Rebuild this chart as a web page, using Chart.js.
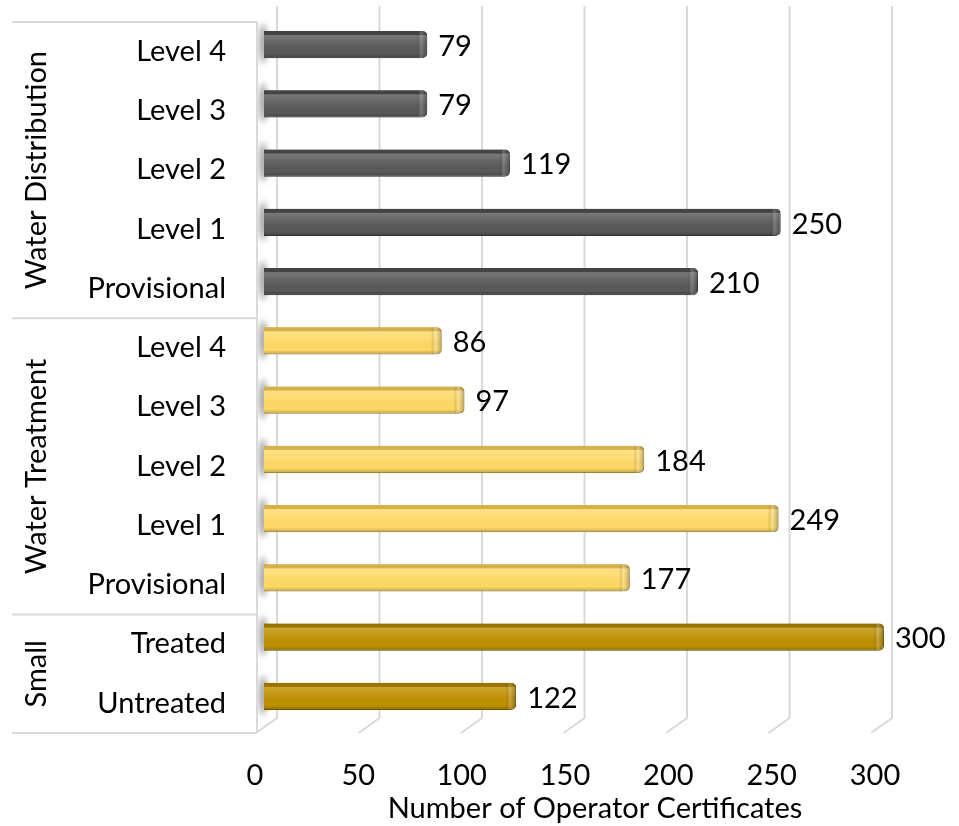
<!DOCTYPE html>
<html>
<head>
<meta charset="utf-8">
<script src="https://cdn.jsdelivr.net/npm/chart.js@4/dist/chart.umd.min.js"></script>
<style>
  html, body { margin: 0; padding: 0; background: #fff; }
  #wrap { width: 959px; height: 826px; }
</style>
</head>
<body>
<div id="wrap"><canvas id="c" width="959" height="826"></canvas></div>
<script>
// Certificate levels, top to bottom
const levels = ['Level 4', 'Level 3', 'Level 2', 'Level 1', 'Provisional',
                'Level 4', 'Level 3', 'Level 2', 'Level 1', 'Provisional',
                'Treated', 'Untreated'];
// Program groups and how many levels each one spans
const groupNames = ['Water Distribution', 'Water Treatment', 'Small'];
const groupSizes = [5, 5, 2];
// Number of operator certificates per level
const certificates = [79, 79, 119, 250, 210, 86, 97, 184, 249, 177, 300, 122];
// Value axis ticks
const xTicks = [0, 50, 100, 150, 200, 250, 300];
const axisTitle = 'Number of Operator Certificates';

// Group styling: front colour, top face, outline
const groupFront = ['#595959', '#FFD966', '#BF9000'];
const groupTop   = ['#444444', '#D6B04A', '#977200'];
const groupEdge  = ['#3f3f3f', '#C9A43C', '#8A6A00'];

const FONT = 'Lato, "Open Sans", sans-serif';
const FONT_SIZE = 29;
const GRID = '#d9d9d9';
const DEPTH_X = 21;   // floor depth, horizontal
const DEPTH_Y = 15;   // floor depth, vertical
const LABEL_SHIFT = 7; // category labels sit below the bars (3D offset)

function groupOf(i) {
  let acc = 0;
  for (let g = 0; g < groupSizes.length; g++) {
    acc += groupSizes[g];
    if (i < acc) return g;
  }
  return groupSizes.length - 1;
}

// x position of a value on the back wall
function backX(scale, v) {
  const x0 = scale.left;
  return x0 + (scale.getPixelForValue(v) - x0) * 0.992 + 13;
}

const wallPlugin = {
  id: 'wall',
  beforeDatasetsDraw(chart) {
    const { ctx, scales: { x, y } } = chart;
    const floorBack = y.bottom - 8;
    const floorFront = floorBack + DEPTH_Y;
    ctx.save();
    ctx.strokeStyle = GRID;
    ctx.lineWidth = 2;
    xTicks.forEach(v => {
      const bx = backX(x, v);
      ctx.beginPath();
      ctx.moveTo(bx, 6);
      ctx.lineTo(bx, floorBack);
      ctx.lineTo(bx - DEPTH_X, floorFront);
      ctx.stroke();
    });
    // bar shadows on the side wall
    const meta = chart.getDatasetMeta(0);
    const wallL = backX(x, 0) - DEPTH_X + 1, wallR = backX(x, 0) - 1;
    ctx.beginPath();
    ctx.rect(wallL, 0, wallR - wallL, floorFront);
    ctx.clip();
    ctx.filter = 'blur(3px)';
    ctx.fillStyle = 'rgba(0,0,0,0.42)';
    meta.data.forEach(el => {
      const p = el.getProps(['y', 'height'], true);
      ctx.beginPath();
      ctx.ellipse(wallL + 6, p.y - 1, 3.5, p.height / 2 + 6, 0, 0, Math.PI * 2);
      ctx.fill();
    });
    ctx.restore();
  }
};

const barLookPlugin = {
  id: 'barLook',
  afterDatasetsDraw(chart) {
    const { ctx } = chart;
    const meta = chart.getDatasetMeta(0);
    const values = chart.data.datasets[0].data;
    meta.data.forEach((el, i) => {
      const { x, y, base, height } = el.getProps(['x', 'y', 'base', 'height'], true);
      const top = y - height / 2, bot = y + height / 2;
      const left = Math.min(base, x), right = Math.max(base, x);
      const g = groupOf(i);
      ctx.save();
      ctx.beginPath();
      ctx.roundRect(left, top, right - left, height, [0, 5, 5, 0]);
      ctx.clip();
      // top face
      ctx.fillStyle = groupTop[g];
      ctx.fillRect(left, top, right - left, 4);
      // front sheen
      const sg = ctx.createLinearGradient(0, top + 4, 0, bot);
      sg.addColorStop(0, 'rgba(255,255,255,0.20)');
      sg.addColorStop(0.35, 'rgba(255,255,255,0.07)');
      sg.addColorStop(0.8, 'rgba(0,0,0,0)');
      sg.addColorStop(1, 'rgba(0,0,0,0.25)');
      ctx.fillStyle = sg;
      ctx.fillRect(left, top + 4, right - left, height - 4);
      // rounded end cap
      const cg = ctx.createLinearGradient(right - 10, 0, right, 0);
      cg.addColorStop(0, 'rgba(0,0,0,0.10)');
      cg.addColorStop(0.35, 'rgba(255,255,255,0.18)');
      cg.addColorStop(1, 'rgba(0,0,0,0.28)');
      ctx.fillStyle = cg;
      ctx.fillRect(right - 10, top, 10, height);
      ctx.restore();
      // value label
      ctx.save();
      ctx.fillStyle = '#000';
      ctx.font = FONT_SIZE + 'px ' + FONT;
      ctx.textAlign = 'left';
      ctx.textBaseline = 'middle';
      ctx.fillText(String(values[i]), right + 11, y + 2);
      ctx.restore();
    });
  }
};

const groupBoxPlugin = {
  id: 'groupBox',
  afterDraw(chart) {
    const { ctx, scales: { x, y } } = chart;
    const step = (y.bottom - y.top) / levels.length;
    const edgeX = backX(x, 0) - DEPTH_X + 1;
    const yAt = k => y.top + k * step + LABEL_SHIFT;
    ctx.save();
    ctx.strokeStyle = GRID;
    ctx.lineWidth = 2;
    // outer right edge (front of side wall)
    ctx.beginPath();
    ctx.moveTo(edgeX, yAt(0));
    ctx.lineTo(edgeX, yAt(levels.length));
    ctx.stroke();
    // group separators
    let k = 0;
    const bounds = [0];
    groupSizes.forEach(n => { k += n; bounds.push(k); });
    bounds.forEach(b => {
      ctx.beginPath();
      ctx.moveTo(12, yAt(b));
      ctx.lineTo(edgeX, yAt(b));
      ctx.stroke();
    });
    // rotated group names
    ctx.fillStyle = '#000';
    ctx.font = FONT_SIZE + 'px ' + FONT;
    ctx.textAlign = 'center';
    ctx.textBaseline = 'middle';
    groupNames.forEach((name, gi) => {
      const cy = (yAt(bounds[gi]) + yAt(bounds[gi + 1])) / 2;
      ctx.save();
      ctx.translate(37, cy);
      ctx.rotate(-Math.PI / 2);
      ctx.fillText(name, 0, 0);
      ctx.restore();
    });
    // axis title
    ctx.fillText(axisTitle, 595, 809);
    ctx.restore();
  }
};

Chart.defaults.font.family = FONT;
Chart.defaults.color = '#000';

new Chart(document.getElementById('c'), {
  type: 'bar',
  data: {
    labels: levels,
    datasets: [{
      data: certificates,
      backgroundColor: levels.map((_, i) => groupFront[groupOf(i)]),
      borderColor: levels.map((_, i) => groupEdge[groupOf(i)]),
      borderWidth: 1,
      borderRadius: 5,
      borderSkipped: 'start',
      barPercentage: 0.456,
      categoryPercentage: 1
    }]
  },
  options: {
    indexAxis: 'y',
    responsive: false,
    animation: false,
    events: [],
    layout: { padding: { left: 0, right: 75, top: 15, bottom: 0 } },
    plugins: { legend: { display: false }, tooltip: { enabled: false } },
    scales: {
      x: {
        type: 'linear',
        min: 0,
        max: 300,
        afterBuildTicks(scale) { scale.ticks = xTicks.map(v => ({ value: v })); },
        afterFit(scale) {
          scale.height = 100;
          scale.paddingLeft = 0; scale.paddingRight = 0;
          scale.paddingTop = 0; scale.paddingBottom = 0;
        },
        grid: { display: false, drawTicks: false },
        border: { display: false },
        ticks: { font: { size: FONT_SIZE }, padding: 32, labelOffset: -9, color: '#000' }
      },
      y: {
        type: 'category',
        afterFit(scale) {
          scale.width = 264;
          scale.paddingTop = 0; scale.paddingBottom = 0;
          scale.paddingLeft = 0; scale.paddingRight = 0;
        },
        grid: { display: false, drawTicks: false },
        border: { display: false },
        ticks: { font: { size: FONT_SIZE }, padding: 38, labelOffset: LABEL_SHIFT, color: '#000', autoSkip: false }
      }
    }
  },
  plugins: [wallPlugin, barLookPlugin, groupBoxPlugin]
});
</script>
</body>
</html>
